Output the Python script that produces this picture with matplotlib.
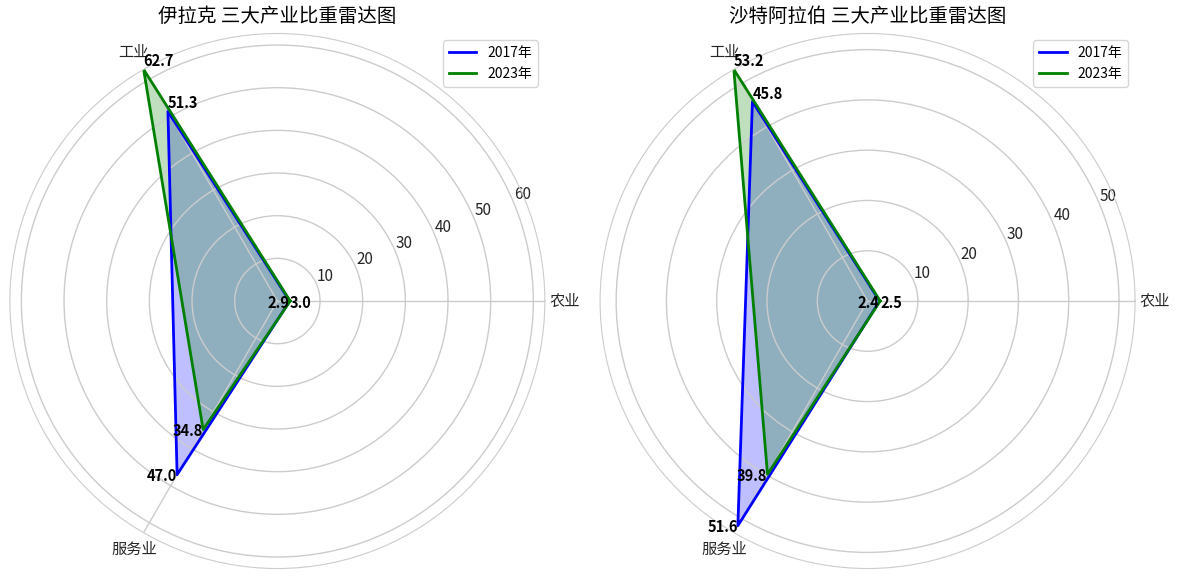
import numpy as np
import matplotlib
matplotlib.use('Agg')
import matplotlib.pyplot as plt

plt.rcParams['font.family'] = ['Noto Sans CJK SC', 'DejaVu Sans']
plt.rcParams['axes.unicode_minus'] = False

# data
categories = ['农业', '工业', '服务业']
countries = ['伊拉克', '沙特阿拉伯']
years = ['2017年', '2023年']
iraq_2017 = [2.9, 51.3, 47.0]
iraq_2023 = [3.0, 62.7, 34.8]
saudi_2017 = [2.4, 45.8, 51.6]
saudi_2023 = [2.5, 53.2, 39.8]
colors = ['blue', 'green']

data = {'伊拉克': [iraq_2017, iraq_2023], '沙特阿拉伯': [saudi_2017, saudi_2023]}

# label alignment per series and category (ha, va)
label_align = [
    [('right', 'center_baseline'), ('left', 'bottom'), ('right', 'center_baseline')],
    [('left', 'center_baseline'), ('left', 'bottom'), ('right', 'center_baseline')],
]

n = len(categories)
angles = np.linspace(0, 2 * np.pi, n, endpoint=False).tolist()
angles_closed = angles + angles[:1]

fig = plt.figure(figsize=(11.84, 5.79), dpi=100)
positions = [[0.0083, 0.0181, 0.4519, 0.924], [0.5068, 0.0181, 0.4519, 0.924]]

for pos, country in zip(positions, countries):
    ax = fig.add_axes(pos, projection='polar')
    series = data[country]
    for k, (vals, year, c) in enumerate(zip(series, years, colors)):
        v = vals + vals[:1]
        ax.plot(angles_closed, v, color=c, linewidth=2, label=year)
        ax.fill(angles_closed, v, color=c, alpha=0.25)
        for i, (a, val) in enumerate(zip(angles, vals)):
            ha, va = label_align[k][i]
            ax.text(a, val, f'{val:.1f}', ha=ha, va=va, fontsize=10.5,
                    fontweight='bold', color='black')
    ax.set_xticks(angles)
    ax.set_xticklabels(categories, fontsize=11, color='#262626')
    ax.tick_params(axis='y', labelsize=11, labelcolor='#262626')
    ax.set_ylim(0, max(max(s) for s in series))
    ax.set_rlabel_position(22.5)
    ax.grid(True, color='#cccccc', linewidth=1)
    ax.spines['polar'].set_color('#cccccc')
    ax.set_title(f'{country} 三大产业比重雷达图', fontsize=14, pad=8)
    ax.legend(loc='upper right', fontsize=10)

fig.savefig('out.png', dpi=100)
